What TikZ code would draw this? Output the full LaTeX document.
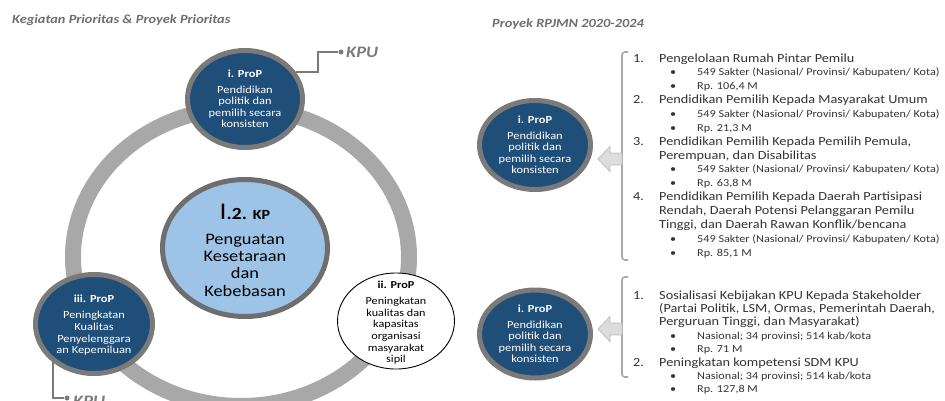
\documentclass[tikz,border=0pt]{standalone}
\usepackage{fontspec}
\setmainfont{Carlito}[FakeStretch=1.15]
\usetikzlibrary{shapes.geometric}
\definecolor{dblue}{HTML}{1F4E79}
\definecolor{bordergray}{HTML}{7A7A7A}
\definecolor{ringgray}{HTML}{A8A8A8}
\definecolor{lblue}{HTML}{9DC3E6}
\definecolor{txtgray}{HTML}{333333}
\definecolor{titlegray}{HTML}{6E6E6E}
\definecolor{arrowfill}{HTML}{DCDCDC}
\definecolor{arrowline}{HTML}{BDBDBD}
\tikzset{
  bluec/.style={ellipse, fill=dblue, draw=bordergray, line width=5pt, inner sep=0pt},
  centerc/.style={ellipse, fill=lblue, draw=bordergray!90!black, line width=5pt, inner sep=0pt},
  whitec/.style={ellipse, fill=white, draw=black, line width=0.9pt, inner sep=0pt},
  ctext/.style={align=center, text=white, inner sep=0pt, font=\fontsize{10.8}{11.6}\selectfont},
  wtext/.style={align=center, text=black, inner sep=0pt, font=\fontsize{10.6}{11.7}\selectfont},
  mainitem/.style={anchor=base west, inner sep=0pt, text=txtgray, font=\fontsize{12.4}{14}\selectfont},
  subitem/.style={anchor=base west, inner sep=0pt, text=txtgray, font=\fontsize{10.6}{11}\selectfont},
  kpu/.style={anchor=west, inner sep=0pt, text=bordergray, font=\fontsize{16}{16}\selectfont\bfseries\itshape},
  kpuline/.style={draw=bordergray, line width=1.4pt},
  kpudot/.style={circle, fill=bordergray, inner sep=0pt, minimum size=5pt},
  bracketline/.style={draw=ringgray, line width=1.6pt, rounded corners=3pt},
  blockarrow/.style={fill=arrowfill, draw=arrowline, line width=0.8pt},
  heading/.style={anchor=base west, inner sep=0pt, text=titlegray, font=\fontsize{12.5}{14}\selectfont\bfseries\itshape}
}
\begin{document}
\begin{tikzpicture}[x=1pt,y=-1pt]
\useasboundingbox (0,0) rectangle (945,400);
\clip (0,0) rectangle (945,400);

% headings
\node[heading] (h1) at (12,23) {Kegiatan Prioritas \& Proyek Prioritas};
\node[heading] (h2) at (492,27) {Proyek RPJMN 2020-2024};

% ring
\draw[ringgray, line width=16pt] (241,257) ellipse [x radius=168, y radius=149];

% circles on the ring
\node[bluec, minimum width=115pt, minimum height=97pt] (topc) at (245,99) {};
\node[ctext] (topt) at (topc.center) {\textbf{i. ProP}\\[4pt]Pendidikan\\politik dan\\pemilih secara\\konsisten};

\node[bluec, minimum width=117pt, minimum height=99pt] (leftc) at (94,324) {};
\node[ctext] (leftt) at ([yshift=-1pt]leftc.center) {\textbf{iii. ProP}\\[5pt]Peningkatan\\Kualitas\\Penyelenggara\\an Kepemiluan};

\node[whitec, minimum width=117pt, minimum height=96pt] (rightc) at (396,321) {};
\node[wtext] (rightt) at ([yshift=-2pt]rightc.center) {\textbf{ii. ProP}\\[4pt]Peningkatan\\kualitas dan\\kapasitas\\organisasi\\masyarakat\\sipil};

\node[centerc, minimum width=165pt, minimum height=137pt] (cc) at (245,248) {};
\node[align=center, inner sep=0pt, text=black, font=\fontsize{16}{17.3}\selectfont] (cct) at ([yshift=-2pt]cc.center)
  {{\fontsize{24}{24}\selectfont I}{\bfseries\fontsize{17}{17}\selectfont .2. }{\bfseries\fontsize{14}{14}\selectfont KP}\\[8pt]Penguatan\\Kesetaraan\\dan\\Kebebasan};

% KPU labels
\node[kpudot] (kd1) at (341,52) {};
\node[kpu] (kpu1) at (346,52) {KPU};
\draw[kpuline] (topc.28) -- ++(22,0) |- (kd1);

\node[kpudot] (kd2) at (67,398) {};
\node[kpu] (kpu2) at (73,401) {KPU};
\draw[kpuline] (leftc.223) |- (kd2);

% right side circles
\node[bluec, minimum width=111pt, minimum height=89pt] (rc1) at (535,145) {};
\node[ctext] (rt1) at (rc1.center) {\textbf{i. ProP}\\[4pt]Pendidikan\\politik dan\\pemilih secara\\konsisten};

\node[bluec, minimum width=111pt, minimum height=88pt] (rc2) at (535,334) {};
\node[ctext] (rt2) at (rc2.center) {\textbf{i. ProP}\\[4pt]Pendidikan\\politik dan\\pemilih secara\\konsisten};

% brackets
\coordinate (b1a) at (628,52);
\coordinate (b1b) at (628,260);
\coordinate (bm1) at (622,159);
\draw[bracketline] (b1a) -- (622,52) -- (622,260) -- (b1b);
\coordinate (b2a) at (628,277);
\coordinate (b2b) at (628,377);
\coordinate (bm2) at (622,329);
\draw[bracketline] (b2a) -- (622,277) -- (622,377) -- (b2b);

% block arrows
\draw[blockarrow] (bm1) ++(0,-6) -- ++(-12,0) -- ++(0,-6.5) -- ++(-12,12.5) -- ++(12,12.5) -- ++(0,-6.5) -- ++(12,0) -- cycle;
\draw[blockarrow] (bm2) ++(0,-6) -- ++(-12,0) -- ++(0,-6.5) -- ++(-12,12.5) -- ++(12,12.5) -- ++(0,-6.5) -- ++(12,0) -- cycle;

% top list
\node[mainitem] (n1) at (633,62) {1.};
\node[mainitem] (t1) at (659,62) {Pengelolaan Rumah Pintar Pemilu};
\node[subitem] (s1a) at (670,75.9) {•};
\node[subitem] (s1at) at (697,75.9) {549 Sakter (Nasional/ Provinsi/ Kabupaten/ Kota)};
\node[subitem] (s1b) at (670,89.7) {•};
\node[subitem] (s1bt) at (697,89.7) {Rp. 106,4 M};
\node[mainitem] (n2) at (633,103.6) {2.};
\node[mainitem] (t2) at (659,103.6) {Pendidikan Pemilih Kepada Masyarakat Umum};
\node[subitem] (s2a) at (670,117.4) {•};
\node[subitem] (s2at) at (697,117.4) {549 Sakter (Nasional/ Provinsi/ Kabupaten/ Kota)};
\node[subitem] (s2b) at (670,131.3) {•};
\node[subitem] (s2bt) at (697,131.3) {Rp. 21,3 M};
\node[mainitem] (n3) at (633,145.2) {3.};
\node[mainitem] (t3) at (659,145.2) {Pendidikan Pemilih Kepada Pemilih Pemula,};
\node[mainitem] (t3b) at (659,159) {Perempuan, dan Disabilitas};
\node[subitem] (s3a) at (670,172.9) {•};
\node[subitem] (s3at) at (697,172.9) {549 Sakter (Nasional/ Provinsi/ Kabupaten/ Kota)};
\node[subitem] (s3b) at (670,186.7) {•};
\node[subitem] (s3bt) at (697,186.7) {Rp. 63,8 M};
\node[mainitem] (n4) at (633,200.6) {4.};
\node[mainitem] (t4) at (659,200.6) {Pendidikan Pemilih Kepada Daerah Partisipasi};
\node[mainitem] (t4b) at (659,214.5) {Rendah, Daerah Potensi Pelanggaran Pemilu};
\node[mainitem] (t4c) at (659,228.3) {Tinggi, dan Daerah Rawan Konflik/bencana};
\node[subitem] (s4a) at (670,242.2) {•};
\node[subitem] (s4at) at (697,242.2) {549 Sakter (Nasional/ Provinsi/ Kabupaten/ Kota)};
\node[subitem] (s4b) at (670,256) {•};
\node[subitem] (s4bt) at (697,256) {Rp. 85,1 M};

% bottom list
\node[mainitem] (m1) at (633,299) {1.};
\node[mainitem] (u1) at (659,299) {Sosialisasi Kebijakan KPU Kepada Stakeholder};
\node[mainitem] (u1b) at (659,312.4) {(Partai Politik, LSM, Ormas, Pemerintah Daerah,};
\node[mainitem] (u1c) at (659,325.8) {Perguruan Tinggi, dan Masyarakat)};
\node[subitem] (v1a) at (670,339.2) {•};
\node[subitem] (v1at) at (697,339.2) {Nasional; 34 provinsi; 514 kab/kota};
\node[subitem] (v1b) at (670,352.6) {•};
\node[subitem] (v1bt) at (697,352.6) {Rp. 71 M};
\node[mainitem] (m2) at (633,366) {2.};
\node[mainitem] (u2) at (659,366) {Peningkatan kompetensi SDM KPU};
\node[subitem] (v2a) at (670,379.4) {•};
\node[subitem] (v2at) at (697,379.4) {Nasional; 34 provinsi; 514 kab/kota};
\node[subitem] (v2b) at (670,392.8) {•};
\node[subitem] (v2bt) at (697,392.8) {Rp. 127,8 M};
\end{tikzpicture}
\end{document}
